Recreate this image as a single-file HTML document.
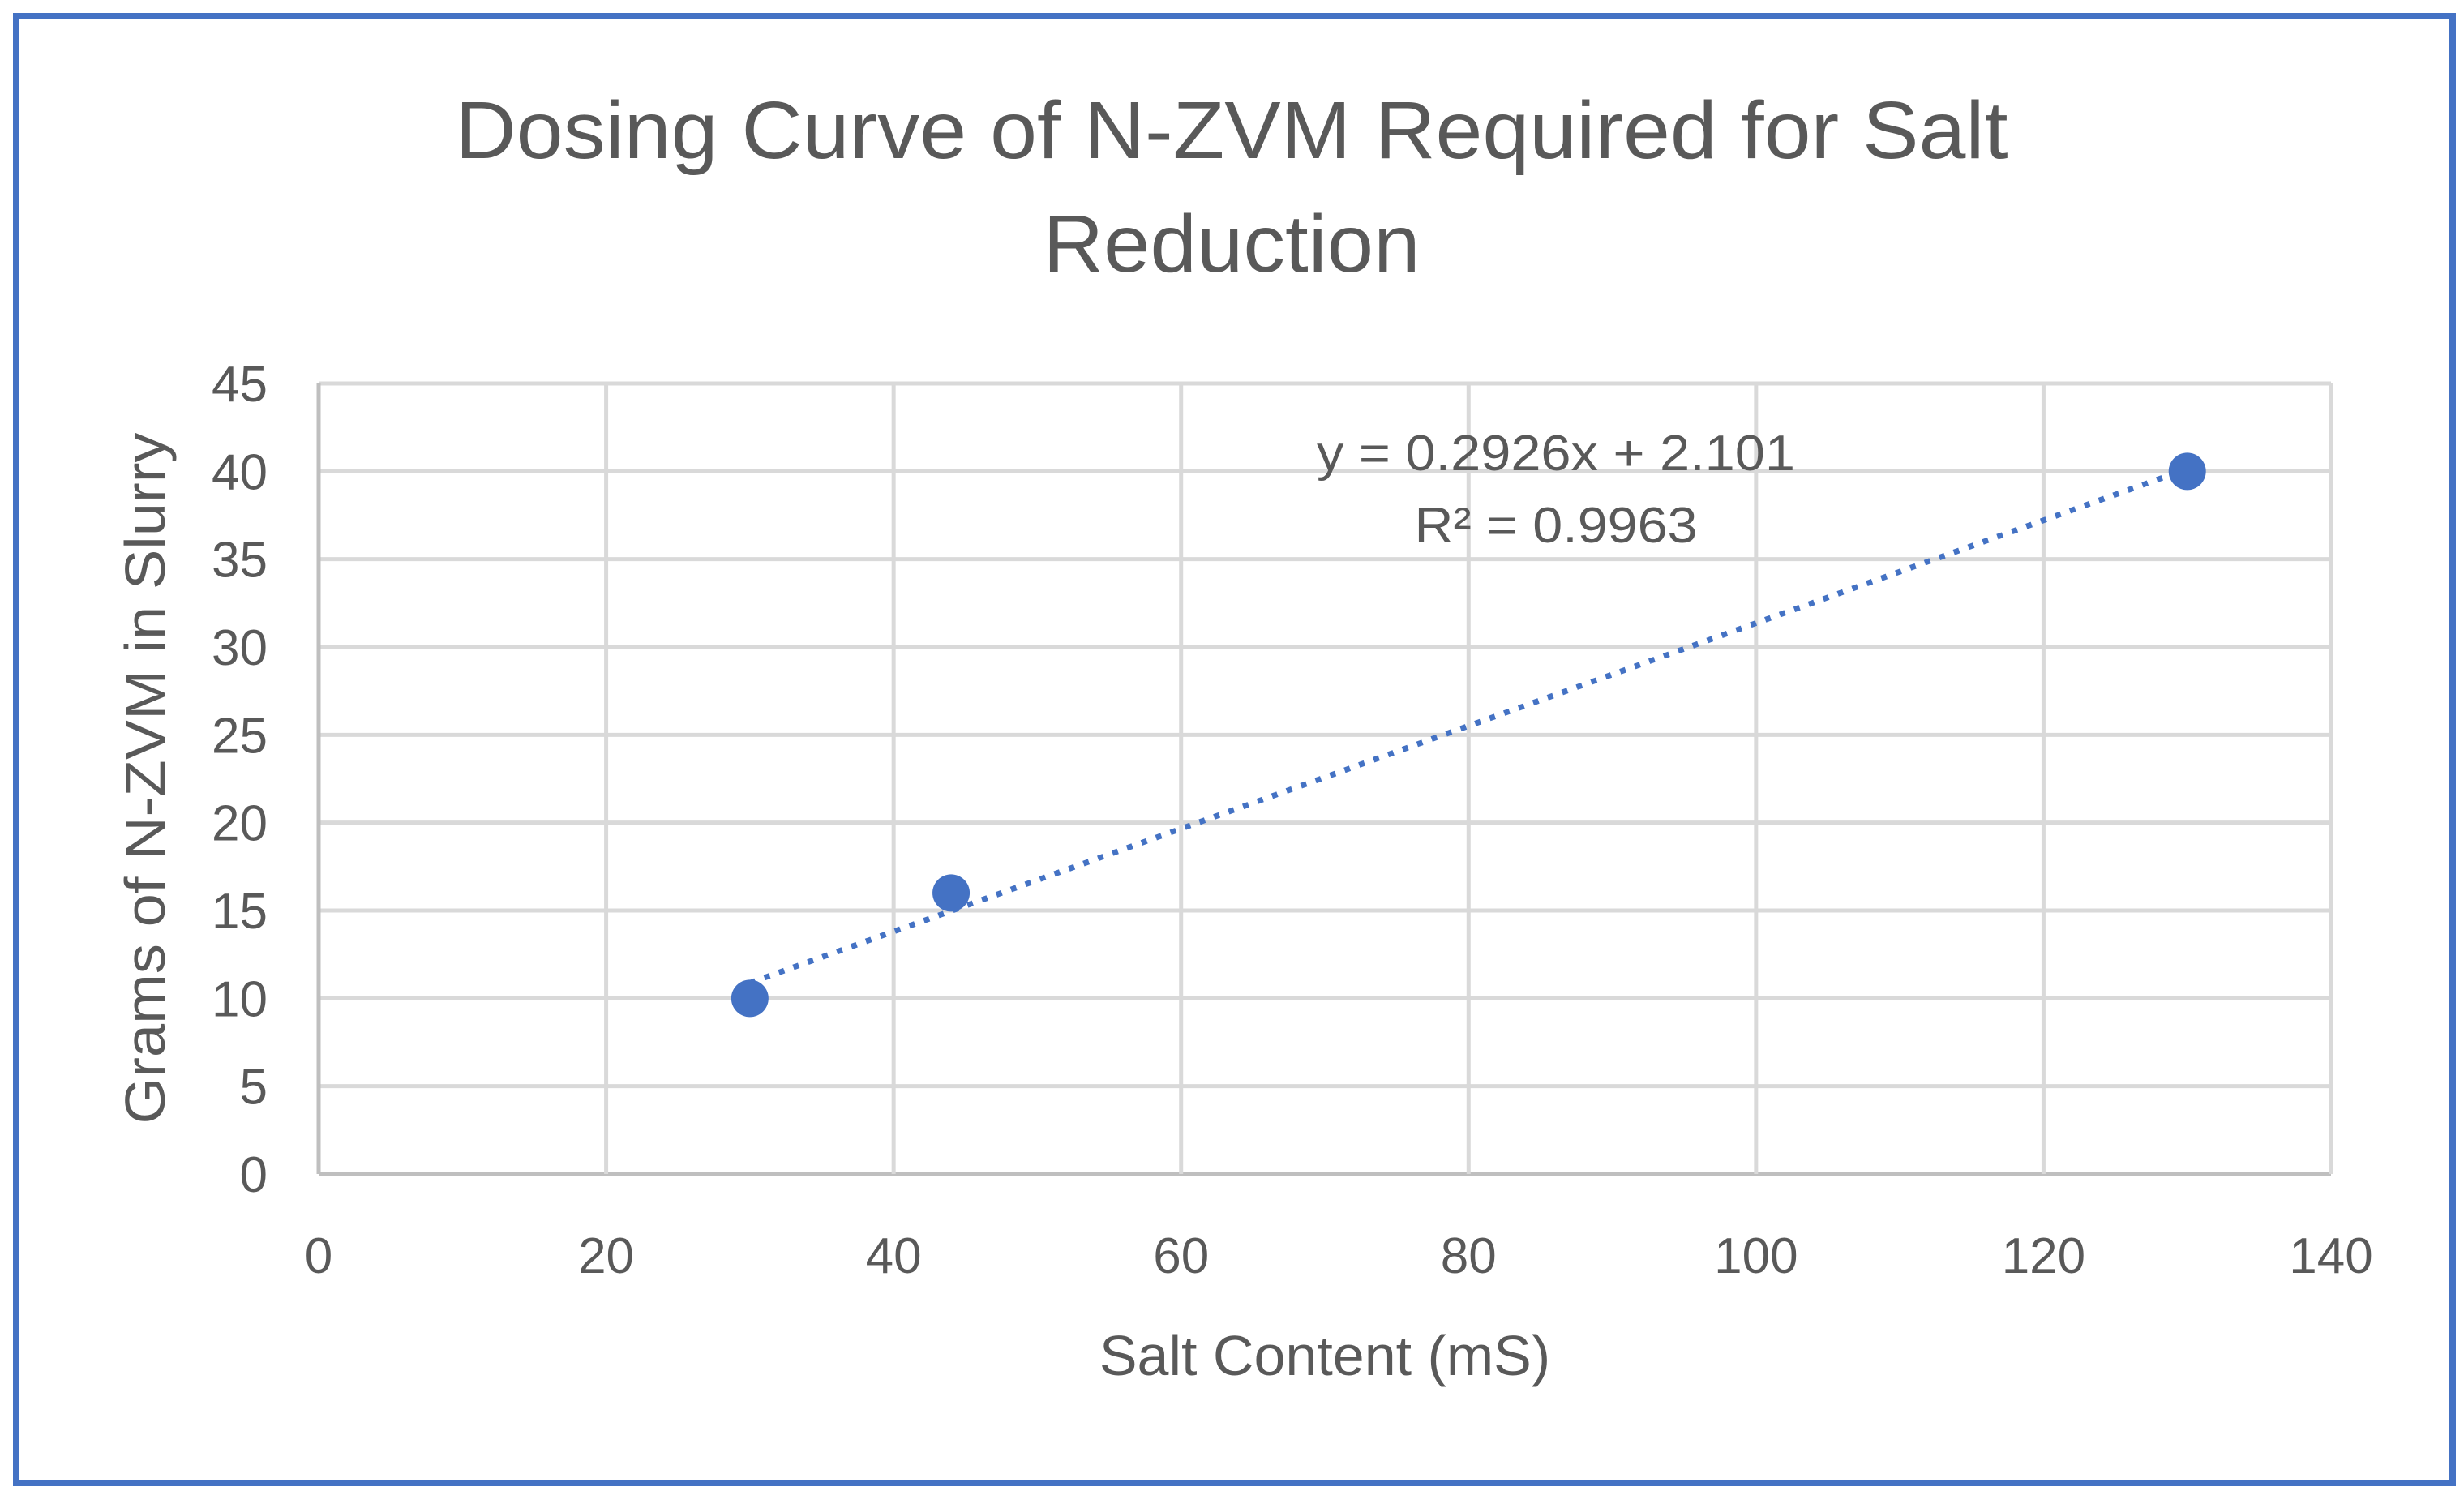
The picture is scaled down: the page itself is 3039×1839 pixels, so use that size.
<!DOCTYPE html>
<html><head><meta charset="utf-8"><style>
html,body{margin:0;padding:0;background:#fff;}
svg{display:block;font-family:"Liberation Sans",sans-serif;}
</style></head><body>
<svg id="chart" width="3039" height="1839" viewBox="0 0 3039 1839" xmlns="http://www.w3.org/2000/svg">
<rect x="20" y="20" width="3005" height="1809" fill="#fff" stroke="#4472c4" stroke-width="8"/>
<text x="1519" y="195" text-anchor="middle" font-size="100" fill="#595959" textLength="1915" lengthAdjust="spacingAndGlyphs">Dosing Curve of N-ZVM Required for Salt</text>
<text x="1519" y="335" text-anchor="middle" font-size="100" fill="#595959" textLength="465" lengthAdjust="spacingAndGlyphs">Reduction</text>
<g id="grid"></g><g id="axes"></g><g id="trend"></g><g id="pts"></g>
<text x="1919" y="580" text-anchor="middle" font-size="62" fill="#595959" textLength="590" lengthAdjust="spacingAndGlyphs">y = 0.2926x + 2.101</text>
<text x="1919" y="669" text-anchor="middle" font-size="62" fill="#595959" textLength="349" lengthAdjust="spacingAndGlyphs">R² = 0.9963</text>
<text x="1634" y="1696" text-anchor="middle" font-size="70" fill="#595959">Salt Content (mS)</text>
<text transform="translate(203,960) rotate(-90)" text-anchor="middle" font-size="70" fill="#595959" textLength="853" lengthAdjust="spacingAndGlyphs">Grams of N-ZVM in Slurry</text>
</svg>
<script>
const xTicks=[0,20,40,60,80,100,120,140];
const yTicks=[0,5,10,15,20,25,30,35,40,45];
const xVals=[30,44,130];
const yVals=[10,16,40];
const trendSlope=0.2926;
const trendIntercept=2.101;
const NS="http://www.w3.org/2000/svg";
const X0=393,X1=2875,Y0=1448,Y1=473;
const sx=v=>X0+(v-0)/(140-0)*(X1-X0);
const sy=v=>Y0-(v-0)/(45-0)*(Y0-Y1);
function mk(tag,attrs,parent){const e=document.createElementNS(NS,tag);for(const k in attrs)e.setAttribute(k,attrs[k]);document.getElementById(parent).appendChild(e);return e;}
yTicks.forEach(t=>{
  const l=mk('line',{x1:X0,x2:X1,y1:sy(t),y2:sy(t),stroke:t===0?'#bfbfbf':'#d9d9d9','stroke-width':5},'grid');
  
  
  const tx=mk('text',{x:330,y:sy(t)+22,'text-anchor':'end','font-size':62,fill:'#595959'},'axes');
  tx.textContent=t;
  
  
});
xTicks.forEach(t=>{
  const l=mk('line',{x1:sx(t),x2:sx(t),y1:Y1,y2:Y0,stroke:t===0?'#bfbfbf':'#d9d9d9','stroke-width':5},'grid');
  
  
  const tx=mk('text',{x:sx(t),y:1570,'text-anchor':'middle','font-size':62,fill:'#595959'},'axes');
  tx.textContent=t;
  
  
});
const xa=Math.min(...xVals),xb=Math.max(...xVals);
const tl=mk('line',{x1:sx(xa),y1:sy(trendSlope*xa+trendIntercept),x2:sx(xb),y2:sy(trendSlope*xb+trendIntercept),stroke:'#4472c4','stroke-width':7,'stroke-dasharray':'7 12'},'trend');


xVals.forEach((v,i)=>{
  const c=mk('circle',{cx:sx(v),cy:sy(yVals[i]),r:23,fill:'#4472c4'},'pts');
  
  
});
</script>
</body></html>
